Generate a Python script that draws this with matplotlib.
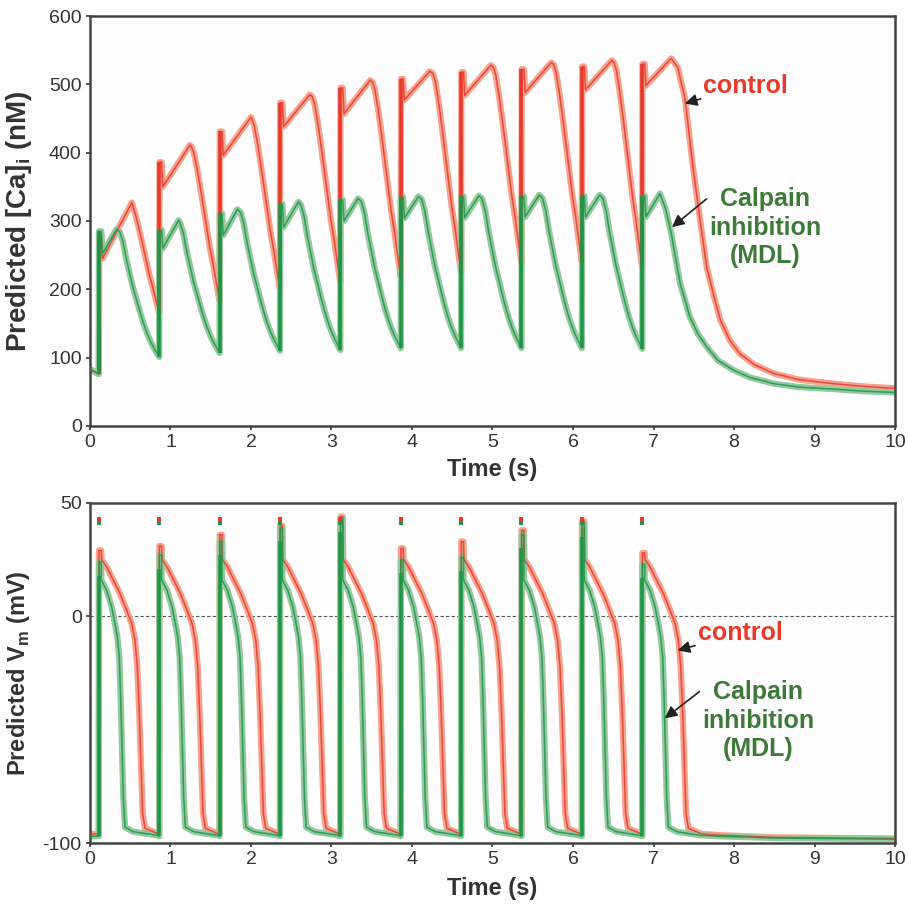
import matplotlib
matplotlib.use('Agg')
import matplotlib.pyplot as plt

plt.rcParams['font.family'] = ['Liberation Sans', 'DejaVu Sans']
plt.rcParams['axes.unicode_minus'] = False

# stimulus times (s)
stim_t = [0.11, 0.86, 1.61, 2.36, 3.11, 3.86, 4.61, 5.36, 6.11, 6.86]

# ---- [Ca]i, control (nM) ----
ca_ctrl_start = 83
ca_ctrl_trough = [76, 165, 183, 200, 210, 218, 224, 238, 240, 232]
ca_ctrl_spike = [279, 386, 431, 473, 495, 508, 518, 522, 526, 530]
ca_ctrl_dip = [245, 350, 396, 438, 457, 477, 484, 488, 492, 498]
ca_ctrl_peak = [327, 411, 452, 485, 506, 519, 528, 532, 535, 538]
ca_ctrl_peak_rel = [0.41, 0.38, 0.39, 0.37, 0.37, 0.36, 0.37, 0.37, 0.37, 0.36]
ca_ctrl_decay_rel = [0.40, 0.43, 0.47, 0.51, 0.55, 0.59, 0.63, 0.675, 0.715]
ca_ctrl_decay_frac = [0.99, 0.95, 0.85, 0.73, 0.60, 0.47, 0.34, 0.22, 0.10]
ca_ctrl_tail_t = [7.30, 7.39, 7.49, 7.58, 7.66, 7.75, 7.83, 7.95, 8.07, 8.25, 8.49, 8.8, 9.23, 9.6, 10.0]
ca_ctrl_tail_v = [525, 480, 379, 300, 233, 190, 155, 125, 106, 90, 77, 68, 62, 58, 55]

# ---- [Ca]i, calpain inhibition (nM) ----
ca_mdl_start = 83
ca_mdl_trough = [76, 101, 107, 110, 111, 114, 114, 114, 114, 113]
ca_mdl_spike = [285, 287, 311, 325, 331, 335, 336, 336, 337, 337]
ca_mdl_dip = [252, 260, 279, 291, 300, 304, 305, 306, 306, 306]
ca_mdl_peak = [288, 301, 317, 328, 333, 336, 337, 338, 338, 340]
ca_mdl_peak_rel = [0.22, 0.24, 0.22, 0.23, 0.22, 0.22, 0.22, 0.22, 0.22, 0.22]
ca_mdl_decay_rel = [0.26, 0.30, 0.34, 0.385, 0.425, 0.468, 0.51, 0.55, 0.59, 0.633, 0.675, 0.716]
ca_mdl_decay_frac = [0.98, 0.902, 0.77, 0.649, 0.54, 0.448, 0.355, 0.273, 0.20, 0.134, 0.08, 0.036]
ca_mdl_tail_t = [7.15, 7.22, 7.33, 7.45, 7.55, 7.66, 7.8, 7.99, 8.2, 8.49, 8.8, 9.23, 9.6, 10.0]
ca_mdl_tail_v = [318, 282, 209, 160, 135, 116, 96, 82, 71, 62, 57, 54, 51, 49]

# ---- Vm (mV) ----
vm_ctrl_rest = -96
vm_ctrl_box = [29, 31, 36, 40, 44, 30, 33, 38, 42, 28]
vm_ctrl_rel = [0.035, 0.097, 0.18, 0.263, 0.346, 0.408, 0.449, 0.478, 0.503, 0.524, 0.544, 0.573, 0.739]
vm_ctrl_v = [25, 21.8, 15.9, 10, 2.6, -3.2, -10.6, -22, -43, -65, -87, -93.5, -96]
vm_ctrl_tail_t = [7.8, 8.5, 10.0]
vm_ctrl_tail_v = [-96.5, -97.5, -98]
vm_ctrl_dot = 43

vm_mdl_rest = -97
vm_mdl_box = [24, 27, 33, 39, 43, 25, 26, 36, 41, 23]
vm_mdl_rel = [0.03, 0.097, 0.16, 0.2, 0.23, 0.254, 0.271, 0.288, 0.304, 0.325, 0.428, 0.72]
vm_mdl_v = [16, 11.5, 4.1, -3.2, -9.1, -18, -35.6, -57.6, -79.7, -93, -95, -96.6]
vm_mdl_tail_t = [7.8, 8.5, 10.0]
vm_mdl_tail_v = [-97, -97.8, -98.3]
vm_mdl_dot = 41

RED_LIGHT, RED_DARK = '#f5a28e', '#e8392b'
GRN_LIGHT, GRN_DARK = '#93c99e', '#1f9548'
GRN_TEXT = '#3d7a38'


def ca_trace(start, trough, spike, dip, peak, peak_rel, decay_rel, decay_frac, tail_t, tail_v):
    t, v = [0.0], [start]
    n = len(stim_t)
    for k in range(n):
        ts = stim_t[k]
        t += [ts, ts + 0.003, ts + 0.03, ts + 0.045, ts + peak_rel[k]]
        v += [trough[k], spike[k], spike[k], dip[k], peak[k]]
        if k < n - 1:
            for r, f in zip(decay_rel, decay_frac):
                if r <= peak_rel[k]:
                    continue
                t.append(ts + r)
                v.append(trough[k + 1] + f * (peak[k] - trough[k + 1]))
    return t + tail_t, v + tail_v


def vm_trace(rest, box, rel, vals, tail_t, tail_v):
    t, v = [0.0], [rest]
    for k, ts in enumerate(stim_t):
        t += [ts, ts + 0.002, ts + 0.03]
        v += [rest, box[k], box[k]]
        t += [ts + r for r in rel]
        v += vals
    return t + tail_t, v + tail_v


def draw(ax, t, v, light, dark):
    ax.plot(t, v, color=light, lw=4.5, solid_joinstyle='round', zorder=2)
    ax.plot(t, v, color=dark, lw=1.1, alpha=0.85, zorder=3)


def upstrokes(ax, lo, hi, color):
    ax.vlines(stim_t, lo, hi, color=color, lw=2.6, zorder=4)


fig = plt.figure(figsize=(9.08, 9.10), dpi=100)
ax1 = fig.add_axes([0.0991, 0.5319, 0.8866, 0.4505])
ax2 = fig.add_axes([0.0991, 0.0736, 0.8866, 0.3737])

arrow = dict(arrowstyle='-|>', color='#222222', lw=1.2, mutation_scale=18, shrinkA=0, shrinkB=0)

# top panel: calcium
t, v = ca_trace(ca_ctrl_start, ca_ctrl_trough, ca_ctrl_spike, ca_ctrl_dip, ca_ctrl_peak,
                ca_ctrl_peak_rel, ca_ctrl_decay_rel, ca_ctrl_decay_frac, ca_ctrl_tail_t, ca_ctrl_tail_v)
draw(ax1, t, v, RED_LIGHT, RED_DARK)
upstrokes(ax1, ca_ctrl_trough, ca_ctrl_spike, RED_DARK)
t, v = ca_trace(ca_mdl_start, ca_mdl_trough, ca_mdl_spike, ca_mdl_dip, ca_mdl_peak,
                ca_mdl_peak_rel, ca_mdl_decay_rel, ca_mdl_decay_frac, ca_mdl_tail_t, ca_mdl_tail_v)
draw(ax1, t, v, GRN_LIGHT, GRN_DARK)
upstrokes(ax1, ca_mdl_trough, ca_mdl_spike, GRN_DARK)

ax1.set_xlim(0, 10)
ax1.set_ylim(0, 600)
ax1.set_yticks(range(0, 601, 100))
ax1.set_xticks(range(0, 11))
ax1.set_ylabel('Predicted [Ca]$_\\mathregular{i}$ (nM)', fontsize=20, fontweight='bold', color='#333333')
ax1.yaxis.set_label_coords(-0.07, 0.5)
ax1.set_xlabel('Time (s)', fontsize=17, fontweight='bold', color='#333333', labelpad=5)

ax1.annotate('control', xy=(7.39, 472), xytext=(7.62, 498), color=RED_DARK, fontsize=18,
             fontweight='bold', ha='left', va='center', arrowprops=arrow)
ax1.annotate('Calpain\ninhibition\n(MDL)', xy=(7.23, 291), xytext=(8.39, 350), color=GRN_TEXT, fontsize=18,
             fontweight='bold', ha='center', va='top', linespacing=1.25,
             arrowprops=dict(arrow, relpos=(0.0, 0.88)))

# bottom panel: membrane potential
t, v = vm_trace(vm_ctrl_rest, vm_ctrl_box, vm_ctrl_rel, vm_ctrl_v, vm_ctrl_tail_t, vm_ctrl_tail_v)
draw(ax2, t, v, RED_LIGHT, RED_DARK)
t, v = vm_trace(vm_mdl_rest, vm_mdl_box, vm_mdl_rel, vm_mdl_v, vm_mdl_tail_t, vm_mdl_tail_v)
draw(ax2, t, v, GRN_LIGHT, GRN_DARK)
upstrokes(ax2, vm_mdl_rest, [b - 6 for b in vm_mdl_box], GRN_DARK)
ax2.scatter(stim_t, [vm_ctrl_dot] * len(stim_t), s=6, marker='s', color=RED_DARK, zorder=5, linewidths=0)
ax2.scatter(stim_t, [vm_mdl_dot] * len(stim_t), s=6, marker='s', color=GRN_DARK, zorder=5, linewidths=0)
ax2.axhline(0, color='#555555', lw=0.8, ls=(0, (3, 2)), zorder=1)

ax2.set_xlim(0, 10)
ax2.set_ylim(-100, 50)
ax2.set_yticks([-100, 0, 50])
ax2.set_xticks(range(0, 11))
ax2.set_ylabel('Predicted V$_\\mathregular{m}$ (mV)', fontsize=17, fontweight='bold', color='#333333')
ax2.yaxis.set_label_coords(-0.072, 0.5)
ax2.set_xlabel('Time (s)', fontsize=17, fontweight='bold', color='#333333', labelpad=6)

ax2.annotate('control', xy=(7.3, -15), xytext=(7.55, -7.5), color=RED_DARK, fontsize=18,
             fontweight='bold', ha='left', va='center', arrowprops=arrow)
ax2.annotate('Calpain\ninhibition\n(MDL)', xy=(7.14, -45), xytext=(8.3, -28), color=GRN_TEXT, fontsize=18,
             fontweight='bold', ha='center', va='top', linespacing=1.25,
             arrowprops=dict(arrow, relpos=(0.0, 0.88)))

for ax in (ax1, ax2):
    for s in ax.spines.values():
        s.set_color('#444444')
        s.set_linewidth(1.8)
    ax.tick_params(labelsize=14, colors='#333333', length=3, width=1.2, direction='out', pad=3)
    ax.set_facecolor('#fdfdfd')

fig.savefig('out.png', dpi=100)
